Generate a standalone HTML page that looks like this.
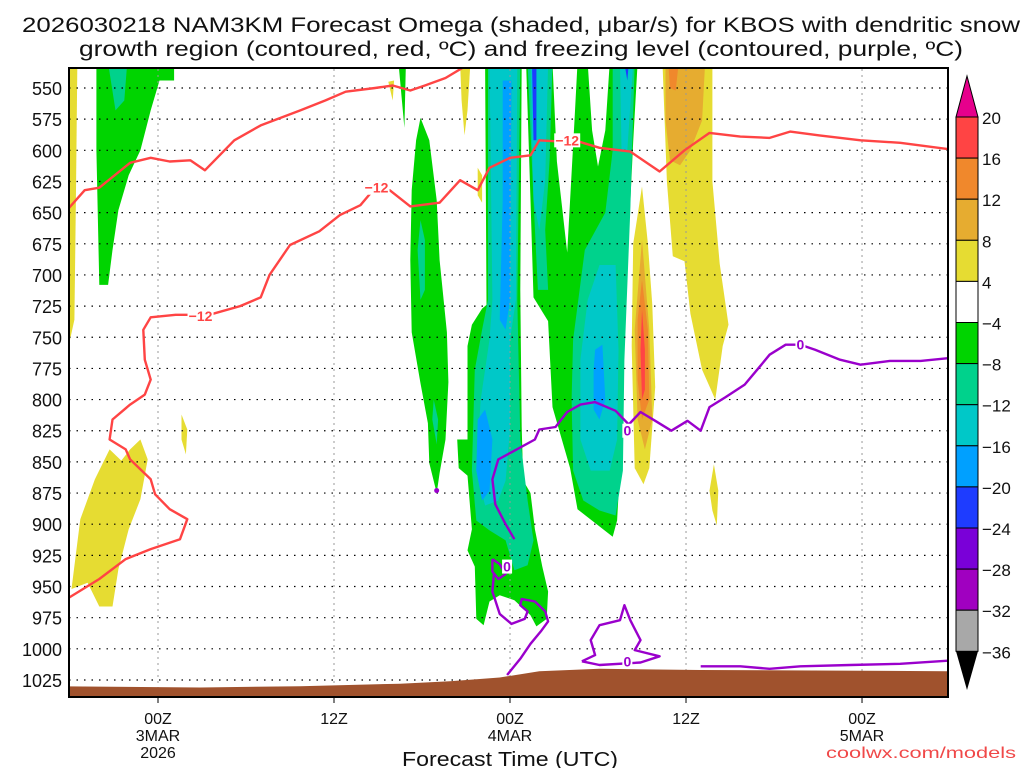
<!DOCTYPE html>
<html><head><meta charset="utf-8"><style>
html,body{margin:0;padding:0;background:#fff;width:1024px;height:768px;overflow:hidden}
svg text{font-family:"Liberation Sans",sans-serif;fill:#111}
</style></head><body>
<svg id="chart" width="1024" height="768" xmlns="http://www.w3.org/2000/svg">
<text x="521" y="32" font-size="21" text-anchor="middle" textLength="998" lengthAdjust="spacingAndGlyphs">2026030218 NAM3KM Forecast Omega (shaded, μbar/s) for KBOS with dendritic snow</text>
<text x="521" y="56" font-size="21" text-anchor="middle" textLength="884" lengthAdjust="spacingAndGlyphs">growth region (contoured, red, ºC) and freezing level (contoured, purple, ºC)</text>
<defs><clipPath id="pc"><rect x="69" y="69" width="879" height="628"/></clipPath></defs>
<g id="shades" clip-path="url(#pc)"></g>
<g id="grid"></g>
<g id="contours" clip-path="url(#pc)"></g>
<rect x="69" y="68" width="879" height="629" fill="none" stroke="#000" stroke-width="2"/>
<g id="axes"></g>
<g id="cbar"></g>
<text x="510" y="766" font-size="20" text-anchor="middle" textLength="216" lengthAdjust="spacingAndGlyphs">Forecast Time (UTC)</text>
<text x="1016" y="758" font-size="16" text-anchor="end" fill="#f04848" style="fill:#f04848" textLength="190" lengthAdjust="spacingAndGlyphs">coolwx.com/models</text>
</svg>
<script>
// ---- data (hours since 18Z 2 Mar, pressure hPa) ----
const pressureLevels=[550,575,600,625,650,675,700,725,750,775,800,825,850,875,900,925,950,975,1000,1025];
const timeTicks=[6,18,30,42,54];
const timeLabels=[["00Z","3MAR","2026"],["12Z"],["00Z","4MAR"],["12Z"],["00Z","5MAR"]];
const cbarLevels=["20","16","12","8","4","−4","−8","−12","−16","−20","−24","−28","−32","−36"];
const cbarColors=["#ff4444","#f0882c","#e6ac30","#e6dc32","#ffffff","#00d400","#00d28c","#00c8c8","#00a0ff","#1e3cff","#7a00d8","#a000c0","#a8a8a8"];
const terrain=[[-1,1030],[8.9,1031],[15.7,1030],[22.5,1028],[25.9,1026],[29.3,1023],[32,1018],[36.1,1016],[43,1017],[61,1018],[61,1045],[-1,1045]];
const yellowL=[[-1,534],[0.5,534],[0.4,640],[0.3,736],[0,752],[-1,752]];
const yellowBlob=[[0.1,952],[0.7,896],[1.7,864],[2.7,840],[3.5,849],[4.1,840],[4.8,832],[5.3,848],[4.8,880],[4,904],[3.3,936],[2.9,966],[2,966],[1.2,947]];
const yellowSmall1=[[7.6,812],[8,824],[7.9,844],[7.6,832]];
const yellowSmall2=[[26.6,530],[27.3,530],[27.1,568],[26.9,588],[26.7,560]];
const yellowSmall3=[[21.7,545],[22.1,544],[22,560]];
const yellowSmall4=[[27.8,614],[28.1,620],[28.1,642],[27.8,636]];
const greenG1=[[1.8,530],[7.1,530],[7.1,544],[6.1,544],[5.5,568],[4.8,600],[4,620],[3.3,648],[2.9,680],[2.6,708],[2,708],[1.9,656],[1.8,600]];
const tealG1=[[2.6,530],[3.9,530],[3.7,560],[3.1,568]];
const greenS=[[22.4,530],[22.9,530],[22.8,582]];
const greenA=[[23.9,574],[24.5,592],[25,640],[25.2,688],[25.7,746],[25.8,786],[25.6,832],[25.2,859],[25,875],[24.5,851],[24.4,819],[23.9,787],[23.3,746],[23.2,688],[23.3,632],[23.6,592]];
const tealA1=[[23.9,656],[24.2,672],[24.2,712],[23.9,720],[23.7,680]];
const tealA2=[[24.8,800],[25.1,816],[25,836],[24.7,816]];
const greenB=[[28.3,530],[30.8,530],[30.7,712],[30.8,822],[30.9,865],[31.4,875],[31.7,904],[32.2,934],[32.6,954],[32.5,976],[31.8,982],[31.4,973],[30.3,961],[29.3,957],[28.6,962],[28.2,981],[27.7,976],[27.6,934],[27.1,921],[27.4,904],[27.1,861],[26.5,855],[26.4,832],[27.1,832],[27.1,757],[27.4,740],[28.1,727],[28.4,724]];
const tealB=[[28.5,530],[30.7,530],[30.5,720],[30.7,832],[31.2,881],[31.6,913],[31.2,933],[30.3,937],[29.7,913],[28.6,905],[27.7,897],[27.4,857],[27.6,776],[28.1,744],[28.5,720]];
const cyanB=[[28.6,530],[30.5,530],[30.4,720],[30,752],[30,824],[29.7,865],[29.2,881],[28.3,885],[27.7,857],[28,800],[28.6,752],[28.8,720]];
const blueB1=[[29.5,544],[30.1,544],[30,720],[29.7,744],[29.3,736],[29.5,640]];
const blueB2=[[27.8,816],[28.3,808],[28.8,832],[28.6,873],[28.1,881],[27.7,857]];
const greenCDE=[[31.1,530],[31.4,640],[31.6,718],[32.6,737],[32.9,806],[34.1,855],[34.6,888],[37,910],[37.3,897],[37.5,855],[37.7,757],[38.2,642],[38.4,593],[38.7,530],[36.8,530],[36.5,584],[36,613],[35.6,584],[35.3,530],[34.6,530],[34.4,576],[33.9,682],[33.5,640],[33.2,609],[32.9,530]];
const tealMain=[[37,530],[38.5,530],[38.2,648],[37.8,768],[37.7,857],[37.2,893],[36.1,889],[35,881],[34.3,857],[34.2,800],[34.3,752],[35.1,680],[36.5,650],[37,600]];
const tealC=[[31.2,530],[32.9,530],[32.7,608],[32.4,664],[32.6,712],[31.9,712],[31.6,640]];
const cyanMain=[[36.1,692],[37.2,692],[37.4,760],[37.3,832],[36.8,857],[35.5,857],[34.8,832],[34.8,768],[35.3,720]];
const cyanE=[[37.5,530],[38.4,530],[38,600],[37.6,600]];
const cyanC=[[31.4,530],[32.6,530],[32.4,624],[32,664],[31.6,640]];
const blueMain=[[35.8,760],[36.3,756],[36.5,800],[36.1,816],[35.7,808],[35.7,776]];
const blueC=[[31.5,530],[31.8,530],[31.8,592],[31.6,592]];
const blueE=[[37.8,530],[38.1,530],[38,544]];
const yellowR=[[40.4,530],[43.8,530],[43.8,625],[44.3,691],[44.9,740],[44.5,757],[44,800],[43.1,776],[42.3,731],[41.9,689],[41.1,685],[40.7,625]];
const dkyellowR=[[40.6,530],[43.3,530],[43.1,576],[42.3,600],[41.6,612],[40.9,608],[40.6,576]];
const orangeR=[[40.8,530],[41.5,530],[41.3,552],[40.9,550]];
const yellowF=[[39,629],[39.4,675],[39.7,724],[39.9,790],[39.5,855],[39.1,868],[38.5,855],[38.3,757],[38.4,675]];
const dkyellowF=[[39,672],[39.5,744],[39.7,816],[39.2,840],[38.7,816],[38.5,744]];
const orangeF=[[39,704],[39.4,744],[39.5,800],[39,816],[38.7,784],[38.7,736]];
const redF=[[39,728],[39.2,760],[39.2,792],[39,800],[38.9,760]];
const yellowS5=[[43.9,852],[44.2,873],[44.1,901],[43.8,889],[43.6,873]];
const redLine1=[[-0.5,652],[1,632],[2,630],[4.1,610],[5.5,606],[6.8,609],[8.2,608],[9.2,616],[11.2,592],[13,580],[15.7,568],[17.4,560],[18.8,553],[20.8,550],[22,548],[23.2,552],[24.2,548],[25.6,542],[27.3,530]];
const redLine2=[[-0.5,962],[2,944],[3.8,928],[5.5,920],[7.5,912],[8,896],[6.8,888],[5.8,876],[5.5,864],[4.1,848],[3.8,840],[2.7,832],[2.9,816],[4.1,804],[5.1,796],[5.5,784],[5.1,768],[5,744],[5.5,734],[7.2,732],[9.5,732],[11.6,725],[13,718],[13.6,700],[15,676],[17,665],[18.4,652],[19.8,644],[20.6,633],[21.8,632],[23.2,645],[25.2,642],[26.6,624],[27.8,632],[28.6,614],[30,606],[31.4,604],[32,592],[33.4,593],[34.4,592],[36.1,598],[38.2,601],[40.2,617],[41.9,600],[43.6,586],[45.7,589],[47.7,590],[49.1,585],[51.1,588],[53.9,592],[56.6,594],[60.5,600]];
const redLabels=[[8.9,733],[20.9,630],[33.9,592]];
const purpleMain=[[60.5,766],[58,769],[55.9,769],[53.9,772],[52.5,768],[50.8,760],[49.8,756],[48.8,756],[47.7,764],[47,774],[46,788],[44.7,798],[43.6,806],[43,825],[42.1,817],[41,825],[39.9,817],[38.9,810],[38.1,820],[37.2,809],[35.8,802],[34.8,804],[33.9,810],[33.1,822],[32,824],[31.7,832],[30.3,841],[29.2,848],[28.8,864],[29,884],[29.7,900],[30.3,912]];
const purpleLoop=[[28.8,928],[29.3,932],[29.7,940],[29.2,944],[28.8,938],[28.8,928]];
const purpleLine2=[[28.9,940],[28.8,954],[29.3,972],[30.1,980],[31,976],[31.2,970],[30.7,965],[30.8,960],[31.7,962],[32.4,970],[32.6,978],[32.1,986],[31.4,996],[30.7,1008],[29.8,1021]];
const purpleBox=[[34.9,1010],[35.8,1005],[35.5,993],[36.1,981],[37.5,977],[37.8,965],[38.2,977],[38.9,993],[38.5,1001],[40.2,1006],[38.9,1011],[36.1,1013],[34.9,1010]];
const purpleBottom=[[43,1014],[45.7,1014],[47.7,1016],[49.8,1014],[53.2,1013],[56.6,1012],[60.5,1009]];
const purpleLabels=[[38,825],[49.8,756],[38,1010],[29.8,934]];

// ---- axis functions ----
const X=h=>70+h*14.667;
const Y=p=>88+(p-550)*1.2463;
const NS="http://www.w3.org/2000/svg";
function mk(tag,attrs,parent){const e=document.createElementNS(NS,tag);for(const k in attrs)e.setAttribute(k,attrs[k]);parent.appendChild(e);return e;}
const pts=a=>a.map(d=>X(d[0]).toFixed(1)+","+Y(d[1]).toFixed(1)).join(" ");
const shades=document.getElementById("shades");
function poly(arr,fill,name){const e=mk("polygon",{points:pts(arr),fill:fill},shades);

}
const C={y:"#e6dc32",dy:"#e6ac30",o:"#f0882c",r:"#ff4444",g:"#00d400",t:"#00d28c",c:"#00c8c8",b:"#00a0ff",bd:"#1e3cff"};
poly(yellowL,C.y,"shade-yellow-left");poly(yellowBlob,C.y,"shade-yellow-lower-left");
poly(yellowSmall1,C.y,"shade-yellow-small");poly(yellowSmall2,C.y,"shade-yellow-small");
poly(yellowSmall3,C.y,"shade-yellow-small");poly(yellowSmall4,C.y,"shade-yellow-small");
poly(greenG1,C.g,"shade-green-left");poly(tealG1,C.t,"shade-teal-left");poly(greenS,C.g,"shade-green-small");
poly(greenA,C.g,"shade-green-column-a");poly(tealA1,C.t,"shade-teal-a");poly(tealA2,C.t,"shade-teal-a");
poly(greenB,C.g,"shade-green-column-b");poly(tealB,C.t,"shade-teal-b");poly(cyanB,C.c,"shade-cyan-b");
poly(blueB1,C.b,"shade-blue-b");poly(blueB2,C.b,"shade-blue-b");
poly(greenCDE,C.g,"shade-green-column-c");poly(tealMain,C.t,"shade-teal-main");poly(tealC,C.t,"shade-teal-c");
poly(cyanMain,C.c,"shade-cyan-main");poly(cyanE,C.c,"shade-cyan-e");poly(cyanC,C.c,"shade-cyan-c");
poly(blueMain,C.b,"shade-blue-main");poly(blueC,C.bd,"shade-darkblue-c");poly(blueE,C.bd,"shade-darkblue-e");
poly(yellowR,C.y,"shade-yellow-right");poly(dkyellowR,C.dy,"shade-darkyellow-right");poly(orangeR,C.o,"shade-orange-right");
poly(yellowF,C.y,"shade-yellow-feature");poly(dkyellowF,C.dy,"shade-darkyellow-feature");poly(orangeF,C.o,"shade-orange-feature");poly(redF,C.r,"shade-red-feature");
poly(yellowS5,C.y,"shade-yellow-small");

// grid
const grid=document.getElementById("grid");
pressureLevels.forEach(p=>{const l=mk("line",{x1:69,x2:948,y1:Y(p),y2:Y(p),stroke:"#000","stroke-width":1.2,"stroke-dasharray":"1.5,6"},grid);

});
timeTicks.forEach(h=>{const l=mk("line",{x1:X(h),x2:X(h),y1:69,y2:697,stroke:"#999","stroke-width":1,"stroke-dasharray":"2,4"},grid);

});

// contours
const cont=document.getElementById("contours");
const t=mk("polygon",{points:pts(terrain),fill:"#a0522d"},cont);


function line(arr,col,name){const e=mk("polyline",{points:pts(arr),fill:"none",stroke:col,"stroke-width":2.4,"stroke-linejoin":"round"},cont);

}
line(redLine1,"#ff4444","dgz-contour-upper");line(redLine2,"#ff4444","dgz-contour-main");
line(purpleMain,"#9a00cc","freezing-level-main");line(purpleLoop,"#9a00cc","freezing-level-loop");
line(purpleLine2,"#9a00cc","freezing-level-lower");line(purpleBox,"#9a00cc","freezing-level-box");line(purpleBottom,"#9a00cc","freezing-level-bottom");
const dot=mk("circle",{cx:X(25),cy:Y(873),r:2.5,fill:"#9a00cc"},cont);


function lab(d,txt,col,name,w){const bg=mk("rect",{x:X(d[0])-w/2,y:Y(d[1])-7,width:w,height:14,fill:"#fff"},cont);


const e=mk("text",{x:X(d[0]),y:Y(d[1])+5,"font-size":14,"font-weight":"bold","text-anchor":"middle",style:"fill:"+col},cont);e.textContent=txt;

}
redLabels.forEach(d=>lab(d,"−12","#ff4444","dgz-label",26));
purpleLabels.forEach(d=>lab(d,"0","#9a00cc","freezing-label",10));

// axes
const ax=document.getElementById("axes");
pressureLevels.forEach(p=>{const e=mk("text",{x:62,y:Y(p)+7,"font-size":18,"text-anchor":"end"},ax);e.textContent=p;

});
timeTicks.forEach((h,i)=>{const tk=mk("line",{x1:X(h),x2:X(h),y1:697,y2:703,stroke:"#000","stroke-width":1},ax);


timeLabels[i].forEach((s,j)=>{const e=mk("text",{x:X(h),y:724+j*17,"font-size":16,"text-anchor":"middle"},ax);e.textContent=s;

});});

// colorbar
const cb=document.getElementById("cbar");
const cx0=956,cw=22,cy0=117,ch=41.1;
cbarColors.forEach((c,i)=>{const r=mk("rect",{x:cx0,y:cy0+i*ch,width:cw,height:ch,fill:c,stroke:"#000","stroke-width":1},cb);

});
const tt=mk("polygon",{points:`${cx0},${cy0} ${cx0+cw},${cy0} ${cx0+cw/2},76`,fill:"#e6008c",stroke:"#000","stroke-width":1},cb);


const yb=cy0+cbarColors.length*ch;
const bt=mk("polygon",{points:`${cx0},${yb} ${cx0+cw},${yb} ${cx0+cw/2},690`,fill:"#000"},cb);


cbarLevels.forEach((s,i)=>{const e=mk("text",{x:982,y:cy0+i*ch+7,"font-size":17},cb);e.textContent=s;

});
</script>
</body></html>
